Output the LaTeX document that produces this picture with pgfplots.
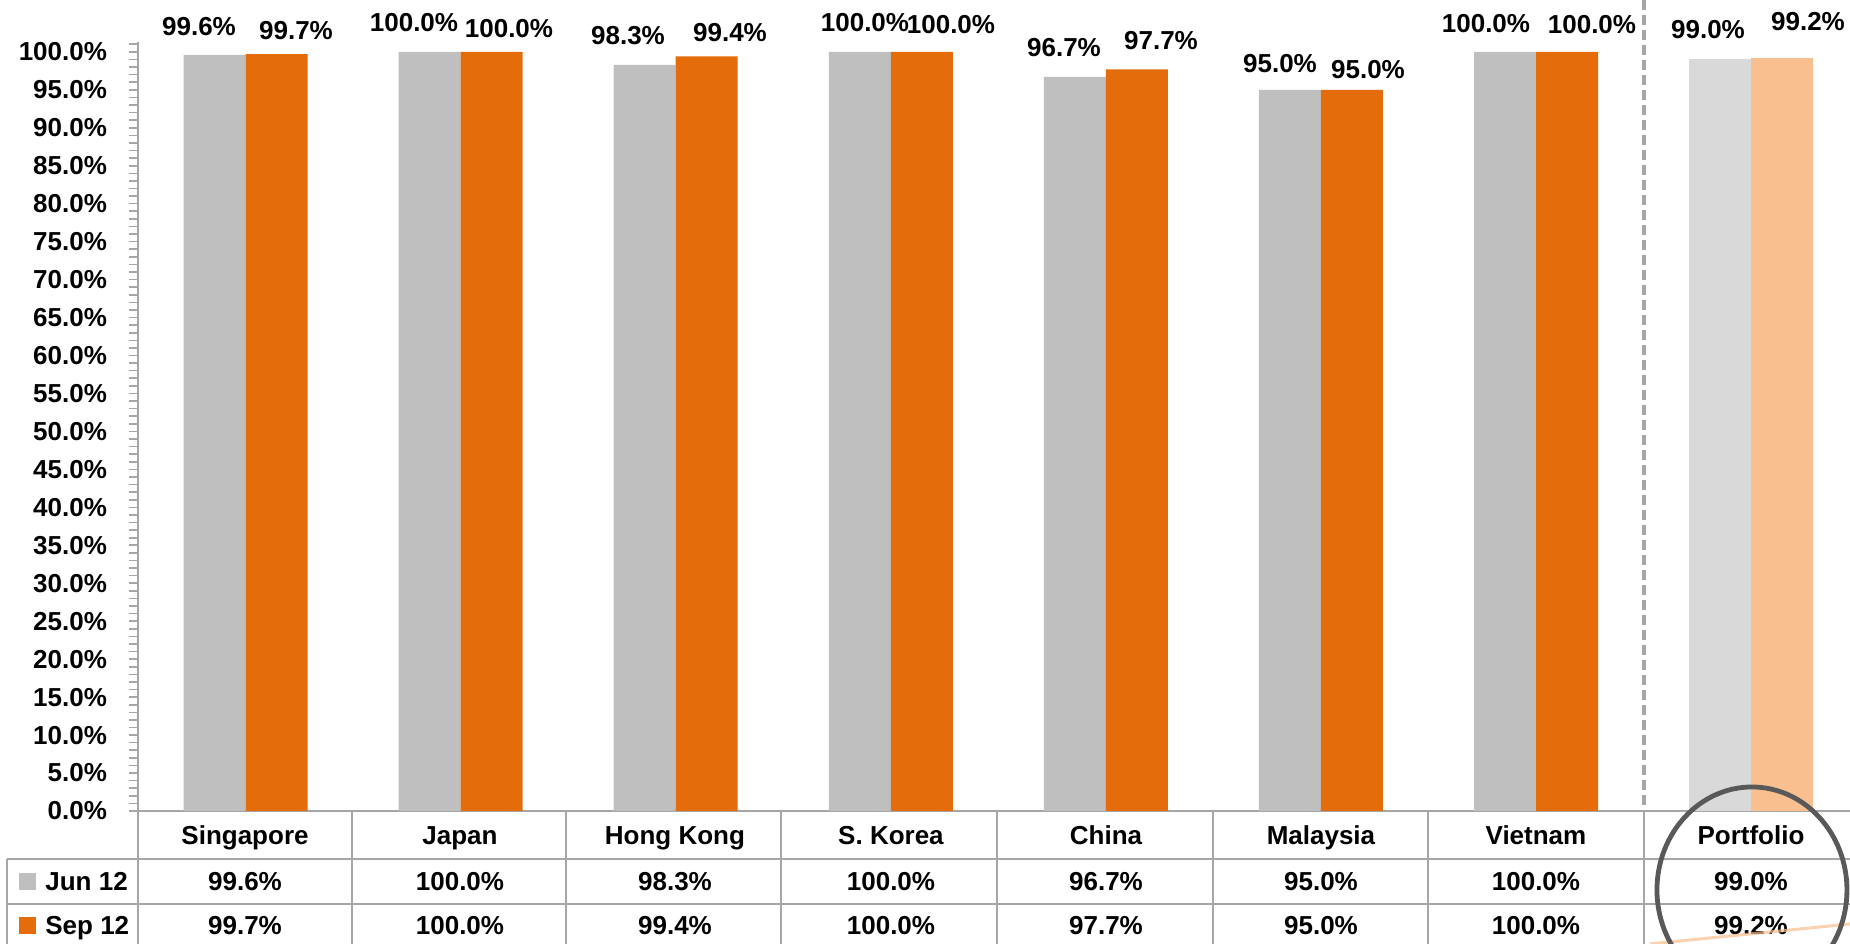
\documentclass[border=0pt]{standalone}
\usepackage{fontspec}
\setmainfont{Liberation Sans}
\usepackage{pgfplots}
\pgfplotsset{compat=1.18}
\definecolor{jun}{HTML}{BFBFBF}
\definecolor{sep}{HTML}{E46C0A}
\definecolor{junP}{HTML}{D9D9D9}
\definecolor{sepP}{HTML}{F9BF8F}
\definecolor{gridc}{HTML}{A6A6A6}
\definecolor{circ}{HTML}{595959}
\newcommand\lbl{\fontsize{13bp}{15bp}\selectfont\bfseries}

\begin{document}
\begin{tikzpicture}
\path[use as bounding box] (0,0) rectangle (925bp,472bp);
\begin{scope}
\clip (0,0) rectangle (925bp,472bp);
\begin{axis}[
  at={(69bp,66.5bp)}, anchor=south west,
  scale only axis, width=856bp, height=384.5bp,
  xmin=-0.5, xmax=7.46, ymin=0, ymax=101.3,
  axis x line*=bottom, axis y line*=left,
  axis line style={gridc, line width=1bp, -},
  xtick=\empty,
  ytick={0,5,...,100},
  minor ytick={0,1,...,101},
  tick align=outside,
  major tick length=4.5bp, minor tick length=4.5bp,
  tick style={gridc, line width=0.8bp},
  yticklabel={\pgfmathprintnumber[fixed,fixed zerofill,precision=1]{\tick}\%},
  /pgf/number format/assume math mode=true,
  yticklabel style={font=\lbl, xshift=-7.5bp},
  clip=false,
]
\addplot[ybar, bar width=31bp, bar shift=-15.5bp, fill=jun, draw=none]
  coordinates {(0,99.6) (1,100.0) (2,98.3) (3,100.0) (4,96.7) (5,95.0) (6,100.0)};
\addplot[ybar, bar width=31bp, bar shift=15.5bp, fill=sep, draw=none]
  coordinates {(0,99.7) (1,100.0) (2,99.4) (3,100.0) (4,97.7) (5,95.0) (6,100.0)};
\addplot[ybar, bar width=31bp, bar shift=-15.5bp, fill=junP, draw=none]
  coordinates {(7,99.0)};
\addplot[ybar, bar width=31bp, bar shift=15.5bp, fill=sepP, draw=none]
  coordinates {(7,99.2)};
\end{axis}

\begin{scope}[shift={(0bp,472bp)}, x=0.5bp, y=-0.5bp]
  % separator
  \draw[gridc, line width=2bp, dash pattern=on 5bp off 2.5bp] (1644,0) -- (1644,811);
  % table grid
  \draw[gridc, line width=1.2bp] (7,859) -- (1850,859);
  \draw[gridc, line width=1.2bp] (7,904) -- (1850,904);
  \draw[gridc, line width=1.2bp] (7,859) -- (7,944);
  \draw[gridc, line width=1.2bp] (138,811) -- (138,944);
  \foreach \xx in {352,566,781,997,1213,1428,1644}
    \draw[gridc, line width=1.2bp] (\xx,811) -- (\xx,944);
  % data labels
  \foreach \xx/\yy/\tt in {199/27/99.6, 296/31/99.7, 414/23/100.0, 509/29/100.0,
      628/36/98.3, 730/33/99.4, 865/23/100.0, 951/25/100.0,
      1064/48/96.7, 1161/41/97.7, 1280/64/95.0, 1368/70/95.0,
      1486/24/100.0, 1592/25/100.0, 1708/30/99.0, 1808/22/99.2}
    \node[font=\lbl, anchor=base, inner sep=0pt] at (\xx,\yy+9) {\tt\%};
  % table text
  \foreach \xx/\nm/\ja/\se in {245/Singapore/99.6/99.7, 460/Japan/100.0/100.0,
      675/Hong Kong/98.3/99.4, 891/S. Korea/100.0/100.0, 1106/China/96.7/97.7,
      1321/Malaysia/95.0/95.0, 1536/Vietnam/100.0/100.0, 1751/Portfolio/99.0/99.2}{
    \node[font=\lbl, anchor=base, inner sep=0pt] at (\xx,845) {\nm};
    \node[font=\lbl, anchor=base, inner sep=0pt] at (\xx,891) {\ja\%};
    \node[font=\lbl, anchor=base, inner sep=0pt] at (\xx,935) {\se\%};
  }
  % legend keys
  \fill[jun] (19,873) rectangle (36,890);
  \node[font=\lbl, anchor=base west, inner sep=0pt] at (45,891) {Jun 12};
  \fill[sep] (19,917) rectangle (36,934);
  \node[font=\lbl, anchor=base west, inner sep=0pt] at (45,935) {Sep 12};
  % highlight
  \draw[sepP, opacity=0.7, line width=1.5bp] (1650,944) -- (1850,924);
  \draw[circ, line width=2.4bp] (1752,890) ellipse [x radius=47.5bp, y radius=51.5bp];
\end{scope}
\end{scope}
\end{tikzpicture}
\end{document}
